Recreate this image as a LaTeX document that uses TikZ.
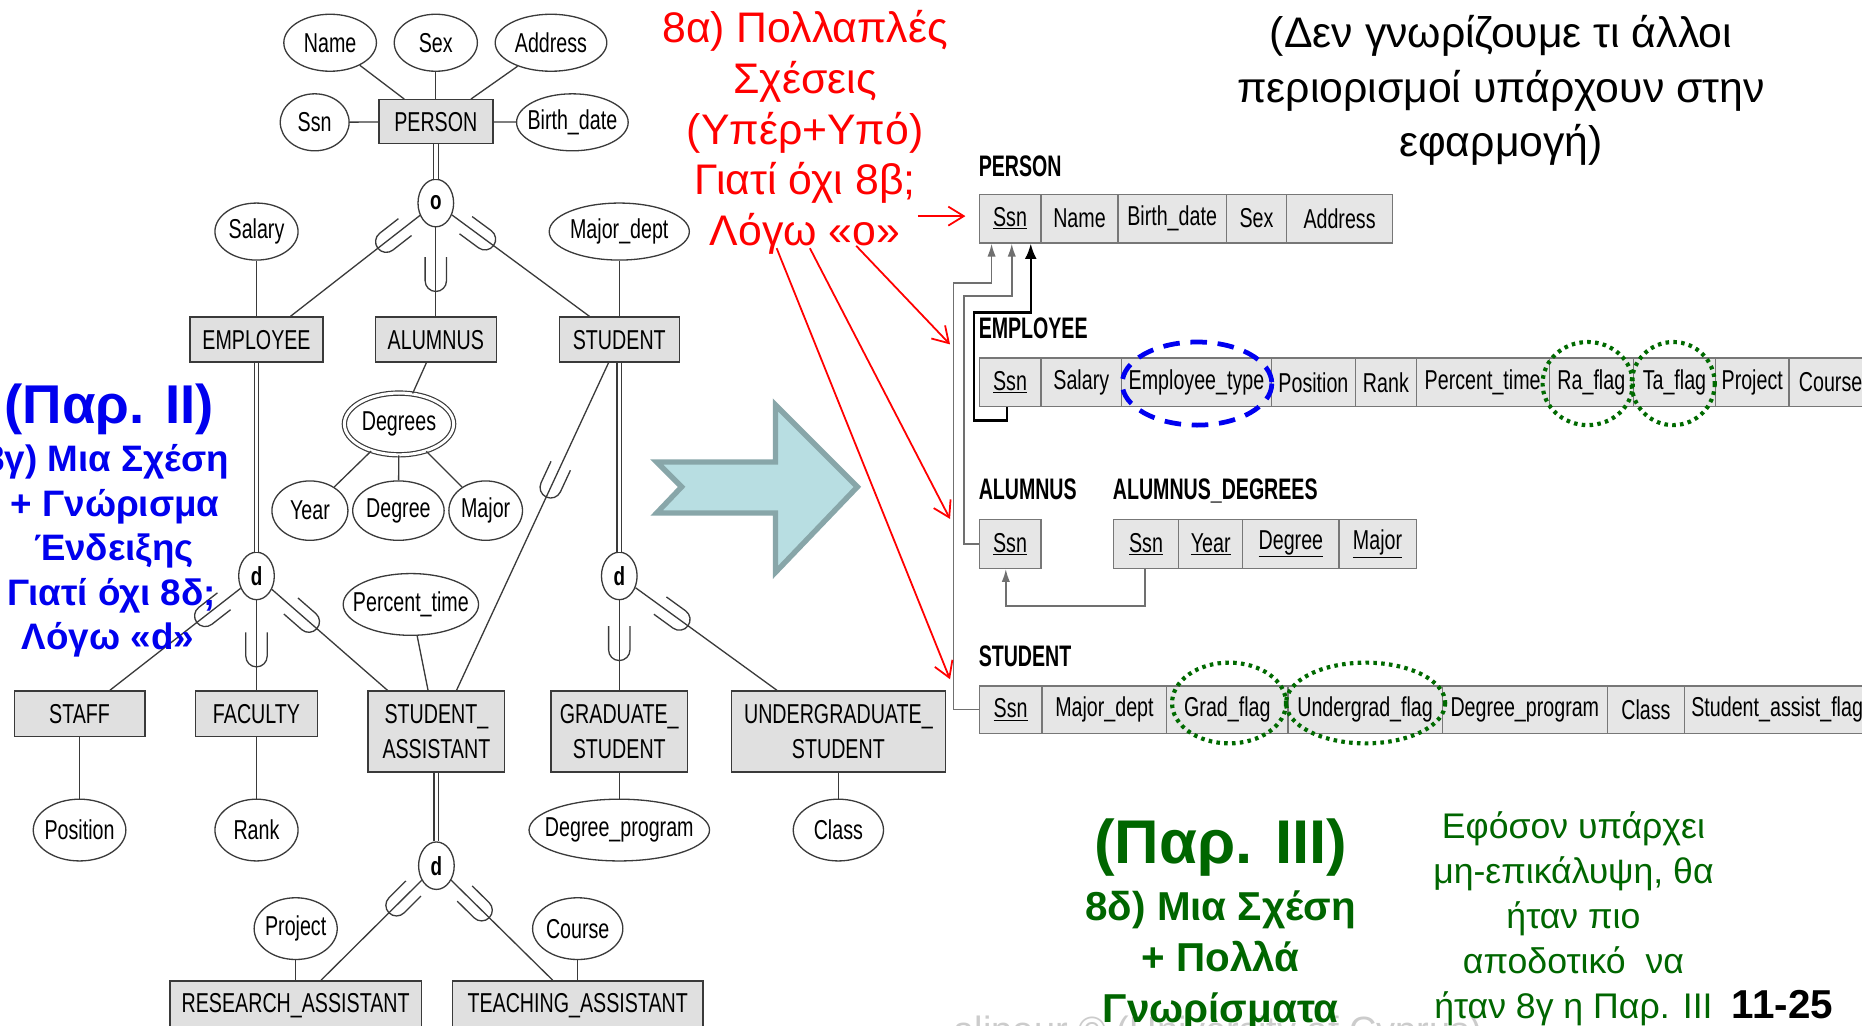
\documentclass[tikz,border=0pt]{standalone}
\usepackage{fontspec}
\setmainfont{Liberation Sans}
\newfontfamily\condfont[FakeStretch=0.72]{Liberation Sans}
\newfontfamily\condbold[FakeStretch=0.72]{Liberation Sans Bold}
\newfontfamily\labfont[FakeStretch=0.66]{Liberation Sans Bold}
\usetikzlibrary{shapes.geometric,arrows.meta,decorations.markings}

\definecolor{ergray}{HTML}{E0E0E0}
\definecolor{erline}{HTML}{3A3A3A}
\definecolor{cellfill}{HTML}{E6E6E6}
\definecolor{cellline}{HTML}{777777}
\definecolor{linkgray}{HTML}{707070}
\definecolor{notered}{HTML}{FF0000}
\definecolor{noteblue}{HTML}{0000EE}
\definecolor{notegreen}{HTML}{006600}
\definecolor{ringgreen}{HTML}{006A00}
\definecolor{ringblue}{HTML}{0000F0}
\definecolor{arrowfill}{HTML}{B8DEE2}
\definecolor{arrowedge}{HTML}{88A6A9}

\newcommand\fsz[1]{\fontsize{#1}{#1}\selectfont}
\newcommand\zw[1]{\makebox[0pt]{#1}}

\tikzset{
  entity/.style={draw=erline, line width=1.2pt, fill=ergray, rectangle, inner sep=0pt,
    align=center, font=\condfont\fontsize{23}{30}\selectfont},
  attr/.style={draw=erline, line width=1.1pt, ellipse, inner sep=0pt, fill=white,
    font=\condfont\fsz{23}},
  spec/.style={draw=erline, line width=1.1pt, ellipse, fill=white, inner sep=0pt,
    minimum width=30pt, minimum height=40pt, font=\condbold\fsz{22}},
  conn/.style={draw=erline, line width=1.1pt},
  dbl/.style={draw=erline, line width=1pt, double=white, double distance=3pt},
  subsetat/.style={postaction={decorate, decoration={markings,
    mark=at position #1 with {\draw[erline, line width=1.1pt]
      (-20pt,-9pt) -- (0pt,-9pt) arc[start angle=-90, end angle=90, radius=9pt] -- (-20pt,9pt);}}}},
  cell/.style={draw=cellline, line width=1.1pt, fill=cellfill, rectangle, inner sep=0pt,
    anchor=north west, minimum height=41pt, font=\condfont\fsz{23}},
  tlabel/.style={anchor=base west, inner sep=0pt, font=\labfont\fsz{25}},
  redtxt/.style={anchor=base, inner sep=0pt, text=notered, font=\fsz{36}},
  blacktxt/.style={anchor=base, inner sep=0pt, text=black, font=\fsz{36}},
  bluetxt/.style={anchor=base, inner sep=0pt, text=noteblue, font=\bfseries\fsz{31}},
  greentxt/.style={anchor=base, inner sep=0pt, text=notegreen, font=\bfseries\fsz{34}},
  greennote/.style={anchor=base, inner sep=0pt, text=notegreen, font=\fsz{30}},
  redarrow/.style={draw=notered, line width=1.5pt, -{Straight Barb[length=13pt,width=16pt]}},
  graylink/.style={draw=linkgray, line width=1.5pt, -{Latex[length=11pt,width=7pt]}},
  blacklink/.style={draw=black, line width=2pt, -{Latex[length=13pt,width=10pt]}},
  greenring/.style={draw=ringgreen, line width=3.5pt, dash pattern=on 3pt off 3.6pt},
  bluering/.style={draw=ringblue, line width=4pt, dash pattern=on 14pt off 9pt}
}

\begin{document}
\begin{tikzpicture}[x=1pt, y=-1pt]
\useasboundingbox (0,0) rectangle (1568,864);
\clip (0,0) rectangle (1568,864);
\fill[white] (0,0) rectangle (1568,864);

% ---------------- EER schema ----------------
\node[attr, minimum width=78pt, minimum height=48pt] (aName) at (278,36) {\zw{Name}};
\node[attr, minimum width=70pt, minimum height=48pt] (aSex) at (367,36) {\zw{Sex}};
\node[attr, minimum width=94pt, minimum height=48pt] (aAddr) at (464,36) {\zw{Address}};
\node[attr, minimum width=58pt, minimum height=48pt] (aSsn) at (265,103) {\zw{Ssn}};
\node[entity, minimum width=96pt, minimum height=37pt] (ePerson) at (367,102.5) {PERSON};
\node[attr, minimum width=94pt, minimum height=48pt] (aBirth) at (482,103) {\zw{Birth\_date}};
\node[spec] (sO) at (367,171) {o};

\node[attr, minimum width=70pt, minimum height=48pt] (aSalary) at (216,195) {\zw{Salary}};
\node[attr, minimum width=118pt, minimum height=48pt] (aMajorDept) at (521.5,195) {\zw{Major\_dept}};
\node[entity, minimum width=112pt, minimum height=38pt] (eEmp) at (216,286) {EMPLOYEE};
\node[entity, minimum width=102pt, minimum height=38pt] (eAlum) at (367,286) {ALUMNUS};
\node[entity, minimum width=101pt, minimum height=38pt] (eStu) at (521.5,286) {STUDENT};

\node[attr, double=white, double distance=2.5pt, line width=1pt, minimum width=92pt, minimum height=52pt] (aDegrees) at (336,357) {\zw{Degrees}};
\node[attr, minimum width=64pt, minimum height=50pt] (aYear) at (261,430) {\zw{Year}};
\node[attr, minimum width=77pt, minimum height=50pt] (aDegree) at (335.5,430) {\zw{Degree}};
\node[attr, minimum width=62pt, minimum height=50pt] (aMajor) at (409,430) {\zw{Major}};

\node[spec] (sEmp) at (216,485) {d};
\node[spec] (sStu) at (521.5,485) {d};
\node[attr, minimum width=114pt, minimum height=52pt] (aPct) at (346,509) {\zw{Percent\_time}};

\node[entity, minimum width=110pt, minimum height=38pt] (eStaff) at (67,601) {STAFF};
\node[entity, minimum width=103pt, minimum height=38pt] (eFac) at (216,601) {FACULTY};
\node[entity, minimum width=115pt, minimum height=68pt] (eSA) at (367.5,616) {STUDENT\_\\ASSISTANT};
\node[entity, minimum width=115pt, minimum height=68pt] (eGrad) at (521.5,616) {GRADUATE\_\\STUDENT};
\node[entity, minimum width=180pt, minimum height=68pt] (eUnder) at (706,616) {UNDERGRADUATE\_\\STUDENT};

\node[attr, minimum width=78pt, minimum height=52pt] (aPos) at (67,699) {\zw{Position}};
\node[attr, minimum width=70pt, minimum height=52pt] (aRank) at (216,699) {\zw{Rank}};
\node[attr, minimum width=152pt, minimum height=52pt] (aDegProg) at (521.5,699) {\zw{Degree\_program}};
\node[attr, minimum width=76pt, minimum height=52pt] (aClass) at (706,699) {\zw{Class}};

\node[spec] (sSA) at (367.5,729) {d};
\node[attr, minimum width=70pt, minimum height=52pt] (aProj) at (249,782) {\zw{Project}};
\node[attr, minimum width=76pt, minimum height=52pt] (aCourse) at (486.5,782) {\zw{Course}};
\node[entity, minimum width=212pt, minimum height=42pt] (eRA) at (249,847) {RESEARCH\_ASSISTANT};
\node[entity, minimum width=211pt, minimum height=42pt] (eTA) at (486.5,847) {TEACHING\_ASSISTANT};

% attribute links
\draw[conn] (aName) -- ([xshift=22pt]ePerson.north west);
\draw[conn] (aSex) -- (ePerson);
\draw[conn] (aAddr) -- ([xshift=-19pt]ePerson.north east);
\draw[conn] (aSsn) -- (ePerson);
\draw[conn] (ePerson) -- (aBirth);
\draw[conn] (aSalary) -- (eEmp);
\draw[conn] (aMajorDept) -- (eStu);
\draw[conn] ([xshift=-8pt]eAlum.south) -- (aDegrees);
\draw[conn] (aDegrees) -- (aYear);
\draw[conn] (aDegrees) -- (aDegree);
\draw[conn] (aDegrees) -- (aMajor);
\draw[conn] (aPct) -- ([xshift=-7pt]eSA.north);
\draw[conn] (eStaff) -- (aPos);
\draw[conn] (eFac) -- (aRank);
\draw[conn] (eGrad) -- (aDegProg);
\draw[conn] (eUnder) -- (aClass);
\draw[conn] (aProj) -- (eRA);
\draw[conn] (aCourse) -- (eTA);

% superclass links
\draw[dbl] (ePerson) -- (sO);
\draw[dbl] (eEmp) -- (sEmp);
\draw[dbl] (eStu) -- (sStu);
\draw[dbl] (eSA) -- (sSA);

% subclass links with subset marks
\draw[conn, subsetat=0.26] (sO) -- ([xshift=-28pt]eEmp.north east);
\draw[conn, subsetat=0.6] (sO) -- (eAlum);
\draw[conn, subsetat=0.24] (sO) -- ([xshift=26pt]eStu.north west);
\draw[conn, subsetat=0.27] (sEmp) -- ([xshift=81pt]eStaff.north west);
\draw[conn, subsetat=0.62] (sEmp) -- (eFac);
\draw[conn, subsetat=0.32] (sEmp) -- ([xshift=17pt]eSA.north west);
\draw[conn, subsetat=0.38] ([xshift=42pt]eStu.south west) -- ([xshift=75pt]eSA.north west);
\draw[conn, subsetat=0.55] (sStu) -- (eGrad);
\draw[conn, subsetat=0.31] (sStu) -- ([xshift=39pt]eUnder.north west);
\draw[conn, subsetat=0.25] (sSA) -- ([xshift=128pt]eRA.north west);
\draw[conn, subsetat=0.3] (sSA) -- ([xshift=85pt]eTA.north west);

% ---------------- mapping arrow ----------------
\draw[fill=arrowfill, draw=arrowedge, line width=4.5pt, line join=miter]
  (553,389) -- (653,389) -- (653,341) -- (722,410) -- (653,482) -- (653,432)
  -- (553,432) -- (574,410) -- cycle;

% ---------------- relational schema ----------------
\node[tlabel] (lPerson) at (824,149) {PERSON};
\node[cell, minimum width=52pt] (pSsn) at (824,163) {\underline{Ssn}};
\node[cell, minimum width=65pt] (pName) at (876,163) {Name};
\node[cell, minimum width=91pt] (pBirth) at (941,163) {Birth\_date};
\node[cell, minimum width=51pt] (pSex) at (1032,163) {Sex};
\node[cell, minimum width=89pt] (pAddr) at (1083,163) {Address};

\node[tlabel] (lEmp) at (824,285) {EMPLOYEE};
\node[cell, minimum width=52pt] (mSsn) at (824,301) {\underline{Ssn}};
\node[cell, minimum width=68pt] (mSalary) at (876,301) {Salary};
\node[cell, minimum width=126pt] (mType) at (944,301) {Employee\_type};
\node[cell, minimum width=71pt] (mPos) at (1070,301) {Position};
\node[cell, minimum width=51pt] (mRank) at (1141,301) {Rank};
\node[cell, minimum width=112pt] (mPct) at (1192,301) {Percent\_time};
\node[cell, minimum width=71pt] (mRa) at (1304,301) {Ra\_flag};
\node[cell, minimum width=69pt] (mTa) at (1375,301) {Ta\_flag};
\node[cell, minimum width=62pt] (mProj) at (1444,301) {Project};
\node[cell, minimum width=70pt] (mCourse) at (1506,301) {Course};

\node[tlabel] (lAlum) at (824,421) {ALUMNUS};
\node[cell, minimum width=52pt] (uSsn) at (824,437) {\underline{Ssn}};
\node[tlabel] (lAlumDeg) at (937,421) {ALUMNUS\_DEGREES};
\node[cell, minimum width=55pt] (dSsn) at (937,437) {\underline{Ssn}};
\node[cell, minimum width=54pt] (dYear) at (992,437) {\underline{Year}};
\node[cell, minimum width=81pt] (dDegree) at (1046,437) {\underline{Degree}};
\node[cell, minimum width=65pt] (dMajor) at (1127,437) {\underline{Major}};

\node[tlabel] (lStu) at (824,561) {STUDENT};
\node[cell, minimum width=53pt, minimum height=40pt] (tSsn) at (824,577) {\underline{Ssn}};
\node[cell, minimum width=105pt, minimum height=40pt] (tMajor) at (877,577) {Major\_dept};
\node[cell, minimum width=102pt, minimum height=40pt] (tGrad) at (982,577) {Grad\_flag};
\node[cell, minimum width=130pt, minimum height=40pt] (tUgrad) at (1084,577) {Undergrad\_flag};
\node[cell, minimum width=139pt, minimum height=40pt] (tDegProg) at (1214,577) {Degree\_program};
\node[cell, minimum width=65pt, minimum height=40pt] (tClass) at (1353,577) {Class};
\node[cell, minimum width=156pt, minimum height=40pt] (tAssist) at (1418,577) {Student\_assist\_flag};

% foreign keys
\draw[graylink] (tSsn.west) -- ++(-21pt,0) |- ([xshift=11pt,yshift=-33pt]pSsn.south west)
  -- ([xshift=11pt]pSsn.south west);
\draw[graylink] (uSsn.west) -- ++(-12pt,0) |- ([xshift=28pt,yshift=-44pt]pSsn.south west)
  -- ([xshift=28pt]pSsn.south west);
\draw[blacklink] ([xshift=24pt]mSsn.south west) -- ++(0,-11pt) -- ++(-28pt,0)
  |- ([xshift=44pt,yshift=-58pt]pSsn.south west) -- ([xshift=44pt]pSsn.south west);
\draw[graylink] ([xshift=27pt]dSsn.south west) -- ++(0,-31pt) -| ([xshift=23pt]uSsn.south west);

% highlighted attributes
\draw[bluering] (1008,323) ellipse [x radius=63, y radius=35];
\draw[greenring] (1337,323) ellipse [x radius=38, y radius=35];
\draw[greenring] (1409,323) ellipse [x radius=35, y radius=35];
\draw[greenring] (1035,592) ellipse [x radius=48, y radius=34];
\draw[greenring] (1150,592) ellipse [x radius=67, y radius=34];

% ---------------- notes ----------------
\node[redtxt] (red1) at (678,36) {8α) Πολλαπλές};
\node[redtxt] (red2) at (678,79) {Σχέσεις};
\node[redtxt] (red3) at (678,122) {(Υπέρ+Υπό)};
\node[redtxt] (red4) at (678,164) {Γιατί όχι 8β;};
\node[redtxt] (red5) at (678,207) {Λόγω «ο»};

\coordinate (rA0) at (773,182);
\coordinate (rA1) at (813,182);
\coordinate (rB0) at (721,207);
\coordinate (rB1) at (800,290);
\coordinate (rC0) at (682,209);
\coordinate (rC1) at (800,437);
\coordinate (rD0) at (654,209);
\coordinate (rD1) at (800,572);
\draw[redarrow] (rA0) -- (rA1);
\draw[redarrow] (rB0) -- (rB1);
\draw[redarrow] (rC0) -- (rC1);
\draw[redarrow] (rD0) -- (rD1);

\node[blacktxt] (blk1) at (1264,40) {(Δεν γνωρίζουμε τι άλλοι};
\node[blacktxt] (blk2) at (1264,86) {περιορισμοί υπάρχουν στην};
\node[blacktxt] (blk3) at (1264,132) {εφαρμογή)};

\node[bluetxt, font=\bfseries\fsz{46}] (blu0) at (92,357) {(Παρ. II)};
\node[bluetxt] (blu1) at (90,397) {8γ) Μια Σχέση};
\node[bluetxt] (blu2) at (97,435) {+ Γνώρισμα};
\node[bluetxt] (blu3) at (96,472) {Ένδειξης};
\node[bluetxt] (blu4) at (94,510) {Γιατί όχι 8δ;};
\node[bluetxt] (blu5) at (91,547) {Λόγω «d»};

\node[anchor=base west, inner sep=0pt, text=black!20, font=\fsz{32}] (foot) at (803,879) {alipour © (University of Cyprus)};

\node[greentxt, font=\bfseries\fsz{52}] (grn0) at (1028,727) {(Παρ. III)};
\node[greentxt] (grn1) at (1028,775) {8δ) Μια Σχέση};
\node[greentxt] (grn2) at (1028,818) {+ Πολλά};
\node[greentxt] (grn3) at (1028,861) {Γνωρίσματα};

\node[greennote] (gn1) at (1325,706) {Εφόσον υπάρχει};
\node[greennote] (gn2) at (1325,744) {μη-επικάλυψη, θα};
\node[greennote] (gn3) at (1325,782) {ήταν πιο};
\node[greennote] (gn4) at (1325,820) {αποδοτικό\ \ να};
\node[greennote] (gn5) at (1325,858) {ήταν 8γ η Παρ. III};
\node[anchor=base, inner sep=0pt, font=\bfseries\fsz{34}] (slide) at (1501,858) {11-25};
\end{tikzpicture}
\end{document}
